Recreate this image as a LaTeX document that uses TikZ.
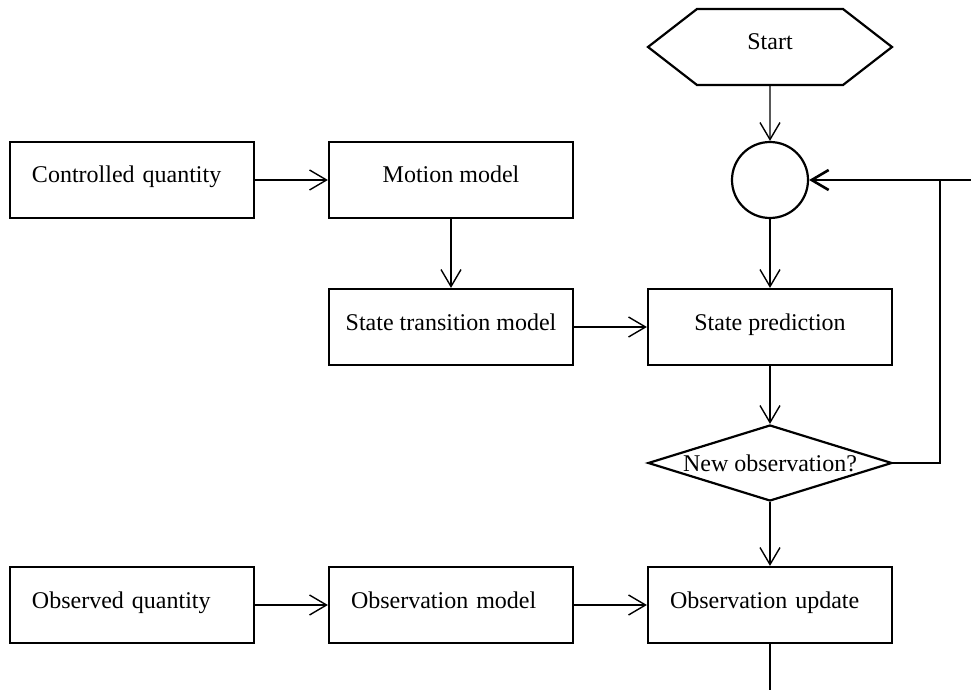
\documentclass[tikz,border=0pt]{standalone}
\usepackage{fontspec}
\setmainfont{Liberation Serif}
\usepackage{tikz}
\usetikzlibrary{shapes.geometric,shapes.symbols,arrows.meta}

\tikzset{
  block/.style={draw,line width=1.1pt,minimum width=122pt,minimum height=38pt,
    inner sep=0pt,text height=8pt,text depth=5pt},
  lblock/.style={block,text width=100pt,align=left},
  hexa/.style={block,signal,signal to=west and east,signal pointer angle=75.6},
  joint/.style={draw,circle,line width=1.1pt,minimum size=38pt,inner sep=0pt},
  decision/.style={draw,diamond,line width=1.1pt,minimum width=122pt,
    minimum height=38pt,inner sep=0pt},
  flow/.style={->,line width=0.7pt},
  feedback/.style={line width=1.3pt}
}

\begin{document}
\begin{tikzpicture}[x=0.5pt,y=-0.5pt,>={Straight Barb[length=8.5pt,width=10pt]},
    every node/.style={font=\fontsize{12}{14}\selectfont}]
  \useasboundingbox (0,0) rectangle (971,690);
  \node[hexa] (start) at (770,47) {Start};
  \node[joint] (join) at (770,180) {};
  \node[lblock] (ctrl) at (132,180) {Controlled quantity};
  \node[block] (motion) at (451,180) {Motion model}; \node[block] (trans)
  at (451,327) {State transition model}; \node[block] (pred) at (770,327)
  {State prediction};
  \node[decision,label=center:New observation?] (newobs) at (770,463) {};
  \node[lblock] (obsq) at (132,605) {Observed quantity}; \node[lblock]
  (obsm) at (451,605) {Observation model}; \node[lblock] (update) at
  (770,605) {Observation update};
  \coordinate (fbin) at (971,180); \coordinate (fbup) at (940,180);
  \coordinate (fbcorner) at (940,463); \coordinate (fbout) at (770,690);
  \path (start) edge[flow] (join); \path (join) edge[flow] (pred); \path
  (pred) edge[flow] (newobs); \path (newobs) edge[flow] (update);
  \path (ctrl) edge[flow] (motion); \path (motion) edge[flow] (trans);
  \path (trans) edge[flow] (pred); \path (obsq) edge[flow] (obsm); \path
  (obsm) edge[flow] (update);
  % back to the joint when nothing new comes in
  \draw[feedback] (newobs.east) -- (fbcorner) -- (fbup);
  \path (fbin) edge[feedback,->] (join);
  \draw[feedback] (update) -- (fbout);
\end{tikzpicture}
\end{document}
